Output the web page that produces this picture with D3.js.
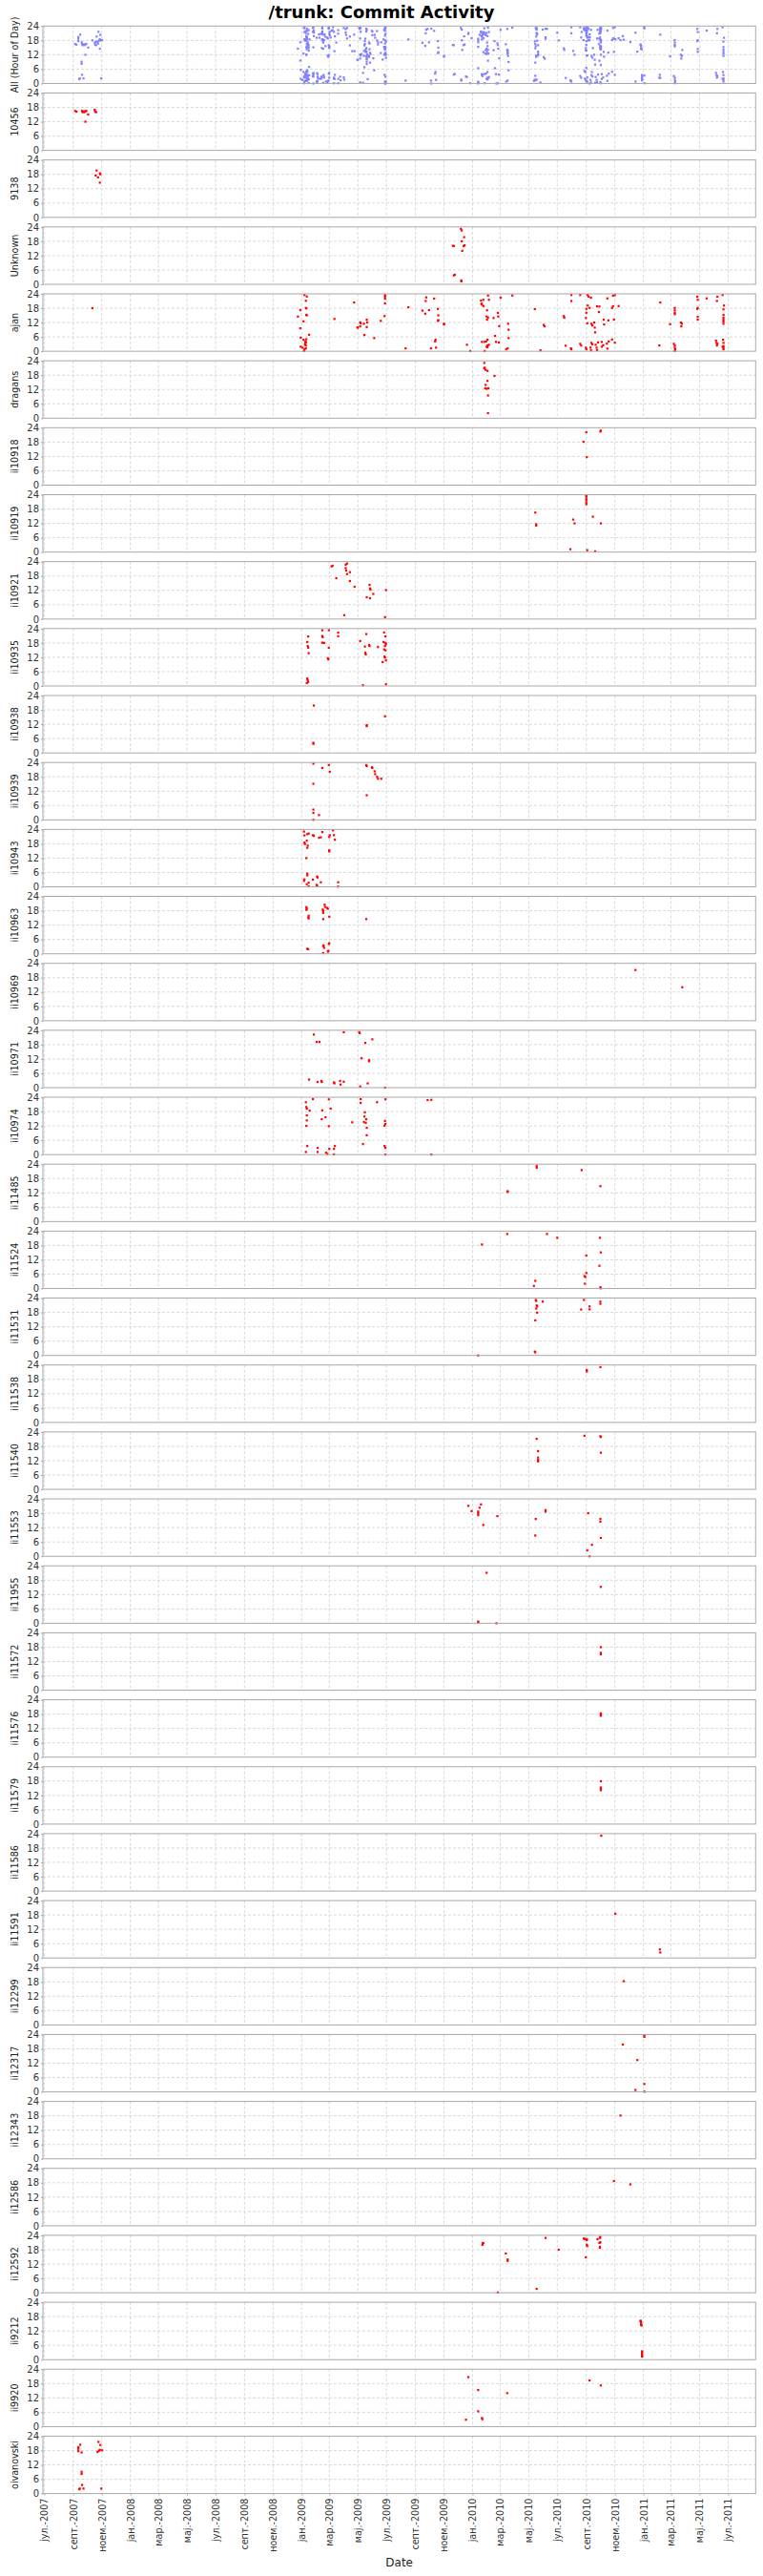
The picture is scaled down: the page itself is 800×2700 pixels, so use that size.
<!DOCTYPE html>
<html><head><meta charset="utf-8">
<script src="https://cdn.jsdelivr.net/npm/d3@7"></script>
<style>
body{margin:0;background:#fff}
svg{display:block}
text{font-family:"DejaVu Sans",sans-serif}
</style>
</head><body>
<svg id="chart" width="800" height="2700"></svg>
<script>
const chartTitle = "/trunk: Commit Activity";
const xTitle = "Date";
const allLabel = "All (Hour of Day)";
const yTickValues = [0, 6, 12, 18, 24];
const xTickLabels = ["јул.-2007","септ.-2007","ноем.-2007","јан.-2008","мар.-2008","мај.-2008","јул.-2008","септ.-2008","ноем.-2008","јан.-2009","мар.-2009","мај.-2009","јул.-2009","септ.-2009","ноем.-2009","јан.-2010","мар.-2010","мај.-2010","јул.-2010","септ.-2010","ноем.-2010","јан.-2011","мар.-2011","мај.-2011","јул.-2011"];

const authors = ["10456","9138","Unknown","ajan","dragans","ii10918","ii10919","ii10921","ii10935","ii10938","ii10939","ii10943","ii10963","ii10969","ii10971","ii10974","ii11485","ii11524","ii11531","ii11538","ii11540","ii11553","ii11955","ii11572","ii11576","ii11579","ii11586","ii11591","ii12299","ii12317","ii12343","ii12586","ii12592","ii9212","ii9920","oivanovski"];

// [date, hour of day]
const c10456 = [["2007-09-05",16.5],["2007-09-08",16.2],["2007-09-20",16.5],["2007-09-21",16],["2007-09-23",16.3],["2007-09-25",16],["2007-09-27",16.4],["2007-09-29",16.5],["2007-09-27",12],["2007-10-03",15],["2007-10-17",17],["2007-10-18",16.2],["2007-10-20",16]];
const c9138 = [["2007-10-19",17.5],["2007-10-21",19.6],["2007-10-24",16.7],["2007-10-28",18.4],["2007-10-29",18],["2007-10-28",14.5]];
const cUnknown = [["2009-12-07",23.2],["2009-12-09",22.5],["2009-12-14",19.7],["2009-12-09",18],["2009-11-20",16.1],["2009-11-22",16],["2009-12-13",16],["2009-12-15",16.3],["2009-12-10",14],["2009-11-24",4],["2009-11-22",3.7],["2009-12-08",1.6],["2009-12-08",1.2]];
const cAjan = [["2007-10-12",18],["2008-12-24",14.5],["2008-12-29",17.2],["2008-12-29",9.6],["2008-12-30",5.7],["2008-12-30",1.9],["2009-01-03",1.5],["2009-01-05",12.5],["2009-01-05",4.8],["2009-01-06",0.1],["2009-01-07",23.5],["2009-01-07",0.8],["2009-01-09",3.5],["2009-01-10",3.7],["2009-01-10",2.4],["2009-01-10",18.1],["2009-01-10",21.1],["2009-01-11",17.9],["2009-01-11",15.2],["2009-01-12",22.9],["2009-01-12",15],["2009-01-17",6.9],["2009-01-08",2.8],["2009-01-09",4.2],["2009-01-11",5.0],["2009-01-10",1.2],
["2009-03-12",13.5],["2009-04-23",20.4],["2009-04-30",9.9],["2009-05-01",9.9],["2009-05-06",12.1],["2009-05-07",11.7],["2009-05-06",10.4],["2009-05-14",11.5],["2009-05-20",13.2],["2009-05-21",12.1],["2009-05-20",10.1],["2009-05-15",6.8],["2009-06-05",5.5],["2009-06-19",12.7],["2009-06-27",14.7],["2009-06-28",23.5],["2009-06-28",22.8],["2009-06-28",22],["2009-06-28",20],
["2009-08-11",1.2],["2009-08-17",18.4],["2009-09-16",17],["2009-09-22",15.7],["2009-09-24",22.5],["2009-09-23",21],["2009-09-30",17.2],["2009-10-11",22],["2009-10-19",17.7],["2009-10-20",15],["2009-10-20",13],["2009-10-19",12.7],["2009-11-01",11.5],["2009-11-01",11.2],["2009-10-14",4.8],["2009-10-13",4.1],["2009-10-04",1.2],["2009-10-15",1.5],["2009-12-20",2.7],["2009-12-27",0.1],
["2010-01-19",21.2],["2010-01-20",19.9],["2010-01-24",21.5],["2010-01-24",18.9],["2010-01-21",19.5],["2010-02-03",23.3],["2010-02-05",21.5],["2010-02-01",17.1],["2010-01-31",14.5],["2010-02-03",14.1],["2010-02-01",13.2],["2010-02-15",13.9],["2010-02-24",16],["2010-02-25",14.5],["2010-02-27",10.5],["2010-01-21",3.9],["2010-01-26",3.9],["2010-01-30",4.1],["2010-02-02",4.8],["2010-02-02",2.4],["2010-01-31",1.9],["2010-02-05",2.7],["2010-02-18",6.4],["2010-02-20",3.9],["2010-02-26",3.7],["2010-01-27",0.1],["2010-02-02",1.7],["2010-03-02",22.4],["2010-03-27",23.3],["2010-03-18",11.5],["2010-03-19",9],["2010-03-19",5.5],["2010-03-17",1.2],["2010-03-14",0.8],
["2010-05-14",17.6],["2010-05-26",0.4],["2010-06-02",11],["2010-06-04",10.4],["2010-07-15",14.7],["2010-07-16",14],["2010-07-19",2.3],["2010-07-31",0.8],["2010-07-30",1.2],["2010-07-31",23.5],["2010-07-31",21],["2010-08-19",23.5],
["2010-08-19",3.1],["2010-08-21",2.4],["2010-08-31",1.5],["2010-09-01",0.8],["2010-09-10",1.5],["2010-09-12",3.5],["2010-09-11",0.4],["2010-09-14",2.9],["2010-09-21",2.7],["2010-09-23",1.5],["2010-09-24",0.5],["2010-09-26",3.7],["2010-10-04",3.9],["2010-10-07",2.5],["2010-10-16",1.1],["2010-10-19",4.1],["2010-10-26",4.9],["2010-11-01",3.6],["2010-10-15",3.2],["2010-10-04",1.9],
["2010-09-04",23.5],["2010-09-06",22.8],["2010-09-11",22.4],["2010-09-01",17.7],["2010-09-04",19.1],["2010-09-08",18.1],["2010-09-01",16.1],["2010-08-31",13.9],["2010-09-03",11.7],["2010-09-12",11.5],["2010-09-14",10.8],["2010-09-19",9.9],["2010-09-20",7.9],["2010-09-18",12],["2010-09-24",18.8],["2010-09-28",16.4],["2010-09-29",18.7],["2010-10-08",13.2],["2010-10-09",11.2],["2010-10-16",22.1],["2010-10-18",12.9],["2010-10-26",18.1],["2010-10-28",18.8],["2010-10-30",13.2],["2010-10-28",23.2],["2010-11-01",23.5],["2010-11-09",18.9],
["2011-02-06",20.4],["2011-02-04",2.4],["2011-02-27",11.3],["2011-03-09",18.1],["2011-03-09",17.1],["2011-03-09",16.1],["2011-03-09",15.5],["2011-03-07",3.1],["2011-03-09",2.4],["2011-03-09",1.5],["2011-03-10",0.8],["2011-03-09",0.1],["2011-03-22",12],["2011-03-24",11.5],["2011-03-23",10.4],
["2011-04-26",22.8],["2011-04-27",21.5],["2011-04-27",18.1],["2011-04-26",17.7],["2011-04-27",14.4],["2011-04-27",13.2],["2011-05-16",22.1],["2011-06-08",22.8],["2011-06-07",21],["2011-06-05",4.4],["2011-06-06",3.5],["2011-06-07",2.4],["2011-06-08",3.1],
["2011-06-19",23.5],["2011-06-22",19.1],["2011-06-21",17.5],["2011-06-21",15.2],["2011-06-21",14.1],["2011-06-21",13.2],["2011-06-21",12.4],["2011-06-21",11.5],["2011-06-20",4.8],["2011-06-21",3.5],["2011-06-21",2.1],["2011-06-21",1.5],["2011-06-21",0.8],["2011-06-19",1.9]];
const cDragans = [["2010-01-26",23.1],["2010-01-27",21.1],["2010-01-26",20.8],["2010-01-29",20.2],["2010-02-02",19.8],["2010-02-17",17.7],["2010-02-02",15.6],["2010-01-29",13.9],["2010-01-28",12.5],["2010-01-31",12.3],["2010-02-04",12.5],["2010-02-03",9.5],["2010-02-03",2.1]];
const c10918 = [["2010-09-01",22.1],["2010-10-01",22.4],["2010-10-02",22.8],["2010-08-26",18.1],["2010-09-02",11.7]];
const c10919 = [["2010-09-01",23.6],["2010-09-01",23.1],["2010-09-01",22.3],["2010-09-01",21.6],["2010-09-01",20.7],["2010-09-01",20],["2010-05-15",16.5],["2010-05-17",11.6],["2010-05-17",11.1],["2010-08-04",13.6],["2010-08-07",12],["2010-09-15",14.8],["2010-10-02",12],["2010-07-29",1.2],["2010-09-03",0.8],["2010-09-20",0.3]];
const c10921 = [["2009-03-06",22],["2009-03-08",22.3],["2009-04-05",22.7],["2009-04-08",23.2],["2009-04-05",21.3],["2009-04-06",20.3],["2009-04-08",18.8],["2009-04-14",19.6],["2009-03-16",17.1],["2009-04-14",15.9],["2009-04-24",13.5],["2009-05-26",14.3],["2009-05-27",12.8],["2009-05-28",12.3],["2009-06-03",10.5],["2009-05-20",9.1],["2009-05-27",8.7],["2009-06-30",12.1],["2009-04-02",1.6],["2009-06-28",0.8]];
const c10935 = [["2009-01-15",20.7],["2009-01-13",18.4],["2009-01-14",16.7],["2009-01-15",16],["2009-01-16",13.7],["2009-02-14",23.3],["2009-02-28",23.3],["2009-02-14",20.9],["2009-02-15",20.4],["2009-02-14",18.1],["2009-02-18",18],["2009-03-20",22.3],["2009-03-20",20.8],["2009-02-28",16],["2009-02-26",11.6],["2009-02-27",11.1],["2009-01-13",3.1],["2009-01-14",2.4],["2009-01-15",1.7],["2009-01-12",1.2],["2009-05-19",21.7],["2009-05-06",18.8],["2009-05-16",16.5],["2009-05-25",17.1],["2009-05-26",16.7],["2009-05-17",13.9],["2009-05-18",13.2],["2009-06-13",16.3],["2009-06-26",22.4],["2009-06-29",20.7],["2009-06-25",18.4],["2009-06-29",18],["2009-06-28",16.7],["2009-06-30",17.5],["2009-06-26",15.3],["2009-06-29",14.9],["2009-06-27",12.3],["2009-06-28",11.9],["2009-06-23",10],["2009-06-30",10.7],["2009-05-12",0.3],["2009-06-30",0.7]];
const c10938 = [["2009-01-27",19.8],["2009-06-28",15.3],["2009-05-20",11.6],["2009-05-20",11.2],["2009-01-26",4.2],["2009-01-26",3.8]];
const c10939 = [["2009-01-26",23.5],["2009-02-28",22.9],["2009-02-14",21.7],["2009-03-02",20.1],["2009-01-26",15.1],["2009-01-26",4.3],["2009-01-26",2.9],["2009-02-07",2],["2009-01-26",0],["2009-05-19",22.9],["2009-05-20",22.5],["2009-05-31",22],["2009-06-01",21.7],["2009-06-06",20.3],["2009-06-07",19.1],["2009-06-11",18],["2009-06-13",17.2],["2009-06-20",17.2],["2009-05-20",10.3]];
const c10943 = [["2009-01-06",23.1],["2009-01-07",21.5],["2009-01-13",22],["2009-01-16",22.3],["2009-01-25",21.6],["2009-01-27",21.3],["2009-02-14",22.9],["2009-03-09",23.6],["2009-03-02",21.6],["2009-03-01",20.8],["2009-03-11",21.6],["2009-03-13",19.7],["2009-02-07",20.5],["2009-02-11",20.7],["2009-01-07",18.5],["2009-01-08",17.9],["2009-01-12",19.3],["2009-01-14",17.2],["2009-01-13",16.3],["2009-03-01",15.3],["2009-03-01",14.8],["2009-01-11",12],["2009-01-13",5.5],["2009-01-13",4.8],["2009-02-03",4.3],["2009-02-04",3.9],["2009-01-07",3.1],["2009-01-06",2.5],["2009-01-25",3],["2009-02-11",1.9],["2009-01-16",1.7],["2009-01-12",1.1],["2009-02-02",0.8],["2009-02-03",0.4],["2009-01-16",0.2],["2009-03-20",1.9],["2009-03-20",0.1]];
const c10963 = [["2009-01-11",19.5],["2009-01-12",18.9],["2009-01-11",18.4],["2009-01-16",15.9],["2009-01-15",15.2],["2009-01-16",14.8],["2009-02-19",20.5],["2009-02-20",19.6],["2009-02-24",19.2],["2009-02-26",18.8],["2009-02-15",18.5],["2009-02-16",17.9],["2009-02-16",17.1],["2009-03-01",15.5],["2009-02-16",14.5],["2009-05-19",14.5],["2009-01-13",2.1],["2009-01-15",1.9],["2009-03-01",4.4],["2009-02-28",4.1],["2009-02-17",3.5],["2009-02-18",2.5],["2009-02-16",3.2],["2009-02-27",1.2],["2009-02-26",0.9],["2009-02-16",0.3]];
const c10969 = [["2010-12-15",21.2],["2011-03-25",14]];
const c10971 = [["2009-01-27",22.2],["2009-04-01",23.2],["2009-05-04",23.2],["2009-05-05",22.8],["2009-02-02",19.1],["2009-02-08",19.1],["2009-05-17",18.7],["2009-06-01",20.2],["2009-05-09",12.3],["2009-05-25",11.5],["2009-05-25",11.1],["2009-01-17",3.4],["2009-02-04",2.4],["2009-02-12",2.8],["2009-02-13",2.4],["2009-03-11",2.2],["2009-03-12",1.8],["2009-03-24",2.8],["2009-04-01",2.5],["2009-03-25",1.3],["2009-05-22",1.8],["2009-05-06",0.5],["2009-06-28",0]];
const c10974 = [["2009-01-25",23.2],["2009-02-28",23.1],["2009-05-07",23.2],["2009-05-07",21.6],["2009-06-29",23.1],["2009-06-11",21.9],["2009-09-27",22.8],["2009-10-05",22.9],["2009-01-10",21.9],["2009-01-11",19.9],["2009-01-12",19.2],["2009-01-18",18.4],["2009-02-14",18.5],["2009-03-04",19.2],["2009-05-16",17.7],["2009-01-12",16.4],["2009-02-21",15.6],["2009-02-13",14.8],["2009-01-12",14.3],["2009-05-15",15.9],["2009-05-19",14.8],["2009-04-19",13.5],["2009-05-14",13.6],["2009-05-18",13.3],["2009-06-28",14.1],["2009-06-29",12.8],["2009-06-27",12.1],["2009-01-11",12],["2009-02-28",11.9],["2009-05-20",11.2],["2009-05-20",8.1],["2009-05-12",4.4],["2009-01-13",3.6],["2009-01-10",1.1],["2009-02-04",2.8],["2009-02-04",1.1],["2009-03-01",2.4],["2009-03-13",3.6],["2009-03-11",2.4],["2009-02-22",0.8],["2009-02-25",0.3],["2009-03-11",0.1],["2009-06-27",3.6],["2009-06-29",2.8],["2009-06-29",0],["2009-10-05",0]];
const c11485 = [["2010-05-18",23.2],["2010-05-18",22.5],["2010-08-22",21.5],["2010-10-01",14.8],["2010-03-17",12.7],["2010-03-17",12.4]];
const c11524 = [["2010-03-16",22.8],["2010-06-09",22.8],["2010-07-01",21.2],["2010-09-30",21.2],["2010-01-21",18.4],["2010-09-01",13.8],["2010-10-02",15.1],["2010-09-29",9.5],["2010-09-01",6.5],["2010-08-28",5.2],["2010-08-30",4.8],["2010-05-15",3.2],["2010-05-12",1.1],["2010-08-29",2],["2010-10-01",0.5],["2010-10-02",0.1]];
const c11531 = [["2010-05-16",23.2],["2010-05-17",22.8],["2010-05-31",22.5],["2010-05-18",20.9],["2010-05-19",20.5],["2010-05-17",19.6],["2010-05-19",17.9],["2010-05-15",14.7],["2010-05-14",1.6],["2010-05-15",1.3],["2010-08-27",23.2],["2010-10-01",22.5],["2010-10-01",21.6],["2010-08-21",19.2],["2010-09-08",20.5],["2010-09-08",19.3],["2010-01-13",0]];
const c11538 = [["2010-10-01",23.1],["2010-09-02",21.9],["2010-09-02",21.3]];
const c11540 = [["2010-08-28",22.4],["2010-10-01",22.2],["2010-10-02",21.9],["2010-05-18",21.1],["2010-05-21",16],["2010-10-02",15.3],["2010-05-21",13.3],["2010-05-21",12.4],["2010-05-21",11.7]];
const c11553 = [["2009-12-23",21.1],["2010-01-19",21.7],["2010-01-16",20.3],["2009-12-30",18.9],["2010-01-13",18.7],["2010-01-13",18],["2010-01-13",17.2],["2010-01-24",13.1],["2010-02-23",16.8],["2010-06-06",19.3],["2010-06-06",18.7],["2010-05-16",15.6],["2010-05-15",8.7],["2010-09-05",18],["2010-10-01",15.6],["2010-10-01",14.5],["2010-10-02",7.7],["2010-09-13",4.8],["2010-09-03",2.5],["2010-09-08",0]];
const c11955 = [["2010-01-31",21.1],["2010-10-02",15.2],["2010-01-13",0.7],["2010-01-13",0.4],["2010-02-21",0]];
const c11572 = [["2010-10-02",18],["2010-10-02",15.6],["2010-10-02",15]];
const c11576 = [["2010-10-02",18.3],["2010-10-02",17.7],["2010-10-02",17.3]];
const c11579 = [["2010-10-02",17.9],["2010-10-02",15.3],["2010-10-02",14.7],["2010-10-02",14.2]];
const c11586 = [["2010-10-03",23.1]];
const c11591 = [["2010-11-02",18.5],["2011-02-05",3.6],["2011-02-06",2.3]];
const c12299 = [["2010-11-20",18.3]];
const c12317 = [["2011-01-03",23.7],["2011-01-03",23],["2010-11-18",19.8],["2010-12-19",13.3],["2011-01-03",3.3],["2010-12-15",0.8],["2011-01-03",0.1]];
const c12343 = [["2010-11-13",18.1]];
const c12586 = [["2010-10-30",18.7],["2010-12-04",17.3]];
const c12592 = [["2010-06-06",22.9],["2010-08-27",22.7],["2010-08-28",22.4],["2010-09-02",22.4],["2010-09-02",22],["2010-09-25",22.4],["2010-10-01",23.3],["2010-09-30",22.9],["2010-10-01",21.1],["2010-09-29",20.8],["2010-09-02",20.1],["2010-09-03",19.5],["2010-09-30",19.2],["2010-09-30",18.8],["2010-01-23",20.8],["2010-01-22",20],["2010-01-24",20.7],["2010-07-04",18],["2010-03-13",16.4],["2010-03-17",13.9],["2010-03-17",13.3],["2010-08-31",14.8],["2010-05-18",1.6],["2010-02-24",0.1]];
const c9212 = [["2010-12-26",16.3],["2010-12-27",15.7],["2010-12-26",16],["2010-12-27",14.8],["2010-12-28",14.3],["2010-12-27",14.5],["2010-12-29",3.5],["2010-12-29",2.9],["2010-12-29",2.3],["2010-12-29",1.7],["2010-12-29",1.3]];
const c9920 = [["2009-12-23",20.7],["2010-09-08",19.3],["2010-10-02",17.2],["2010-01-13",15.3],["2010-03-16",14],["2010-01-13",6.4],["2009-12-18",2.9],["2010-01-21",3.6],["2010-01-22",3.1]];
const cOivanovski = [["2007-09-12",19.4],["2007-09-12",18.7],["2007-09-12",17.7],["2007-09-16",20.4],["2007-09-19",17.2],["2007-09-19",9.1],["2007-09-19",8.2],["2007-09-14",1.8],["2007-09-15",2.1],["2007-09-20",3.6],["2007-09-23",2.1],["2007-10-25",21.6],["2007-10-29",20.3],["2007-10-23",17.4],["2007-10-26",17.9],["2007-10-28",18.3],["2007-11-02",18.1],["2007-10-31",2.1]];

const authorSeries = [c10456,c9138,cUnknown,cAjan,cDragans,c10918,c10919,c10921,c10935,c10938,c10939,c10943,c10963,c10969,c10971,c10974,c11485,c11524,c11531,c11538,c11540,c11553,c11955,c11572,c11576,c11579,c11586,c11591,c12299,c12317,c12343,c12586,c12592,c9212,c9920,cOivanovski];

const parse = d3.utcParse("%Y-%m-%d");
const panels = [{label: allLabel, color: "#8080ff", pts: authorSeries.flat()}]
  .concat(authors.map((a, i) => ({label: a, color: "#ff0000", pts: authorSeries[i]})));

const svg = d3.select("#chart");
const L = 45, R = 792.3, T = 27.3, B = 2613.6, GAP = 10;
const n = panels.length;
const ph = (B - T - GAP * (n - 1)) / n;

const x = d3.scaleUtc()
  .domain([new Date(Date.UTC(2007, 5, 28, 8)), new Date(Date.UTC(2011, 7, 28, 17))])
  .range([L, R]);
const xTicks = d3.utcMonth.every(2).range(new Date(Date.UTC(2007, 6, 1)), new Date(Date.UTC(2011, 6, 2)));

svg.append("text").attr("x", 400).attr("y", 18.5).attr("text-anchor", "middle")
  .attr("font-size", 18).attr("font-weight", "bold").attr("fill", "#000").text(chartTitle);

panels.forEach((p, i) => {
  const y0 = T + i * (ph + GAP);
  const y = d3.scaleLinear().domain([0, 24]).range([y0 + ph, y0]);
  const g = svg.append("g");
  // grid
  g.append("g").selectAll("line").data(xTicks).join("line")
    .attr("x1", d => x(d)).attr("x2", d => x(d)).attr("y1", y0).attr("y2", y0 + ph)
    .attr("stroke", "#cfcfcf").attr("stroke-width", 0.8).attr("stroke-dasharray", "3,2");
  g.append("g").selectAll("line").data(yTickValues.slice(1, -1)).join("line")
    .attr("x1", L).attr("x2", R).attr("y1", d => y(d)).attr("y2", d => y(d))
    .attr("stroke", "#cfcfcf").attr("stroke-width", 0.8).attr("stroke-dasharray", "3,2");
  // points
  g.append("g").selectAll("rect").data(p.pts).join("rect")
    .attr("x", d => x(parse(d[0])) - 1.1).attr("y", d => y(d[1]) - 1.1)
    .attr("width", 2.2).attr("height", 2.2).attr("fill", p.color);
  // border
  g.append("rect").attr("x", L).attr("y", y0).attr("width", R - L).attr("height", ph)
    .attr("fill", "none").attr("stroke", "#a8a8a8").attr("stroke-width", 1);
  // y axis
  const ya = g.append("g").attr("transform", `translate(${L},0)`)
    .call(d3.axisLeft(y).tickValues(yTickValues).tickSize(2).tickPadding(2));
  ya.select(".domain").remove();
  ya.selectAll("line").attr("stroke", "#a8a8a8");
  ya.selectAll("text").attr("font-size", 10).attr("font-family", "DejaVu Sans").attr("fill", "#333");
  // label
  g.append("text").attr("transform", `translate(16,${y0 + ph / 2}) rotate(-90)`)
    .attr("text-anchor", "middle").attr("dy", "0.35em").attr("font-size", 9.6)
    .attr("fill", "#222").text(p.label);
});

// x axis
const xa = svg.append("g").attr("transform", `translate(0,${B})`)
  .call(d3.axisBottom(x).tickValues(xTicks).tickSize(2).tickFormat((d, i) => xTickLabels[i]));
xa.select(".domain").remove();
xa.selectAll("line").attr("stroke", "#a8a8a8");
xa.selectAll("text").attr("font-size", 9.6).attr("font-family", "DejaVu Sans").attr("fill", "#333")
  .attr("transform", "rotate(-90)").attr("text-anchor", "end").attr("x", -5).attr("y", 0).attr("dy", "0.35em");

svg.append("text").attr("x", (L + R) / 2).attr("y", 2690).attr("text-anchor", "middle")
  .attr("font-size", 12).attr("fill", "#222").text(xTitle);
</script>
</body></html>
